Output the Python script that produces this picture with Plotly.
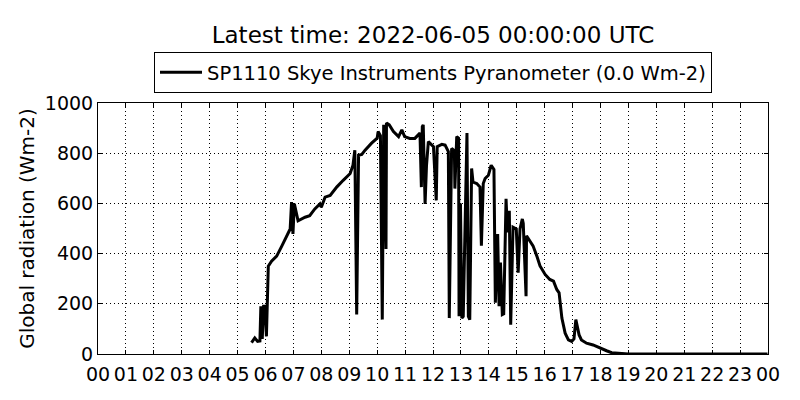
import plotly.graph_objects as go

DAY = "2022-06-04"
times = ["05:30", "05:37", "05:43", "05:48", "05:50", "05:53", "05:56", "05:59", "06:02", "06:06",
         "06:13", "06:24", "06:35", "06:46", "06:53", "06:56", "06:59", "07:02", "07:10", "07:25",
         "07:35", "07:46", "07:57", "08:00", "08:08", "08:19", "08:33", "08:47", "09:02", "09:08",
         "09:12", "09:16", "09:20", "09:27", "09:34", "09:48", "09:55", "10:00", "10:02", "10:07",
         "10:11", "10:14", "10:19", "10:20", "10:26", "10:35", "10:46", "10:53", "10:59", "11:10",
         "11:21", "11:32", "11:35", "11:37", "11:39", "11:43", "11:46", "11:50", "12:01", "12:07",
         "12:09", "12:19", "12:26", "12:30", "12:33", "12:35", "12:40", "12:46", "12:47", "12:51",
         "12:55", "12:56", "12:59", "13:02", "13:05", "13:13", "13:16", "13:19", "13:23", "13:26",
         "13:34", "13:41", "13:44", "13:48", "13:52", "13:59", "14:05", "14:11", "14:14", "14:19",
         "14:22", "14:25", "14:29", "14:32", "14:37", "14:40", "14:44", "14:47", "14:49", "14:52",
         "14:59", "15:03", "15:07", "15:12", "15:14", "15:20", "15:21", "15:28", "15:35", "15:43",
         "15:50", "16:01", "16:11", "16:19", "16:26", "16:31", "16:37", "16:44", "16:51", "16:58",
         "17:03", "17:07", "17:10", "17:14", "17:19", "17:30", "17:44", "17:59", "18:13", "18:24",
         "18:42", "19:00", "23:59"]
radiation = [45, 64, 50, 52, 190, 60, 190, 190, 70, 350,
             370, 390, 430, 470, 498, 605, 478, 598, 531, 545,
             551, 578, 598, 585, 625, 632, 665, 692, 719, 752,
             812, 157, 792, 795, 812, 840, 853, 860, 886, 870,
             137, 913, 418, 920, 913, 886, 866, 893, 866, 859,
             859, 880, 665, 906, 913, 598, 750, 846, 826, 612,
             826, 835, 832, 819, 806, 143, 819, 810, 659, 866,
             860, 150, 600, 143, 150, 880, 150, 137, 739, 685,
             679, 665, 431, 679, 699, 712, 752, 735, 204, 478,
             190, 364, 157, 160, 618, 485, 571, 117, 324, 505,
             498, 324, 498, 538, 520, 230, 471, 451, 431, 391,
             351, 317, 297, 290, 257, 244, 143, 83, 56, 50,
             60, 137, 110, 76, 56, 43, 36, 23, 13, 5,
             2, 0, 0]

title_text = "Latest time: 2022-06-05 00:00:00 UTC"
series_name = "SP1110 Skye Instruments Pyranometer (0.0 Wm-2)"
y_label = "Global radiation (Wm-2)"

x = [f"{DAY} {t}" for t in times]

fig = go.Figure()
fig.add_trace(go.Scatter(x=x, y=radiation, mode="lines", name=series_name,
                         line=dict(color="black", width=3)))

# page body has an 8px margin, so the figure is 792x392 and offsets are compensated
W, H = 792, 392
L, T, R, B = 90, 95, 32, 46
font = "DejaVu Sans"
fig.update_layout(
    width=W, height=H,
    margin=dict(l=L, r=R, t=T, b=B),
    paper_bgcolor="white", plot_bgcolor="white",
    font=dict(family=font, size=19, color="black"),
    title=dict(text=title_text, x=(L + (W - L - R) / 2) / W, xanchor="center",
               y=1 - 27 / H, yanchor="middle",
               font=dict(family=font, size=23, color="black")),
    showlegend=True,
    legend=dict(x=0.5, xanchor="center", y=1.1215, yanchor="middle", orientation="h",
                bordercolor="black", borderwidth=1, bgcolor="white", itemwidth=42,
                font=dict(family=font, size=19.5, color="black")),
)
fig.update_xaxes(
    type="date", range=[f"{DAY} 00:00", "2022-06-05 00:00"],
    dtick=3600000, tickformat="%H", tick0=f"{DAY} 00:00",
    showline=True, linecolor="black", linewidth=1, mirror="ticks",
    ticks="inside", ticklen=4, tickcolor="black", ticklabelstandoff=3,
    showgrid=True, gridcolor="black", griddash="1px,3px", gridwidth=1,
    zeroline=False, tickfont=dict(size=19), automargin=False,
)
fig.update_yaxes(
    range=[0, 1000], dtick=200, tick0=0,
    showline=True, linecolor="black", linewidth=1, mirror="ticks",
    ticks="inside", ticklen=4, tickcolor="black",
    showgrid=True, gridcolor="black", griddash="1px,3px", gridwidth=1,
    zeroline=False, tickfont=dict(size=19), automargin=False,
    title=dict(text=y_label, font=dict(size=20), standoff=4),
)

fig.write_html("out.html")
